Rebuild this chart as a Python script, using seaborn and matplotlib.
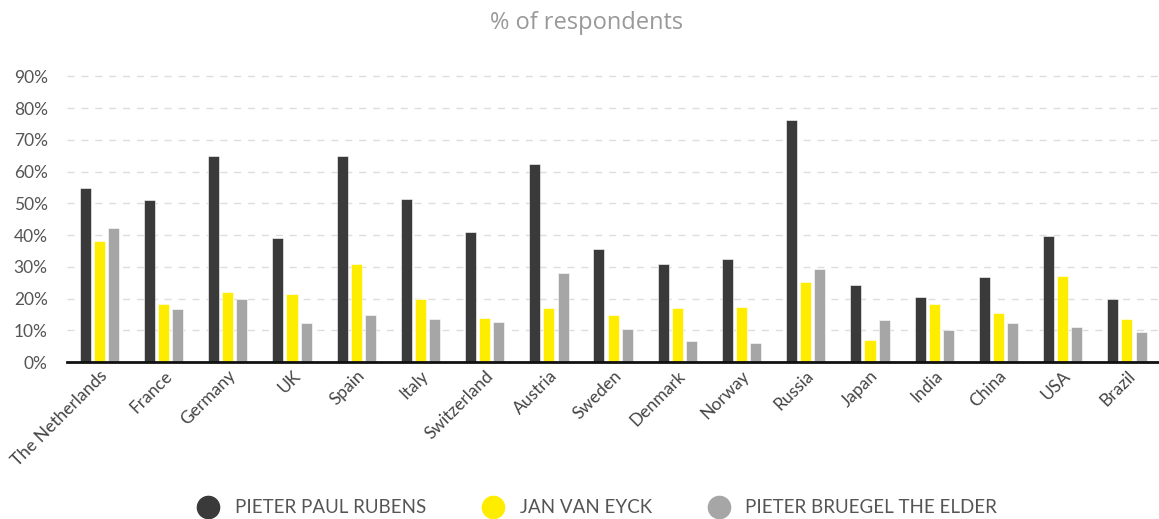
import matplotlib
matplotlib.use("Agg")
import matplotlib.pyplot as plt
from matplotlib.lines import Line2D
import seaborn as sns
import pandas as pd

countries = ["The Netherlands", "France", "Germany", "UK", "Spain", "Italy", "Switzerland",
             "Austria", "Sweden", "Denmark", "Norway", "Russia", "Japan", "India", "China",
             "USA", "Brazil"]
rubens = [54.8, 50.9, 64.9, 39.1, 64.8, 51.4, 41.1, 62.5, 35.6, 31.0, 32.3, 76.2, 24.2, 20.4, 26.8, 39.7, 19.8]
van_eyck = [38.2, 18.3, 22.0, 21.4, 31.0, 19.7, 14.0, 17.1, 14.8, 17.0, 17.3, 25.2, 6.8, 18.3, 15.4, 27.2, 13.4]
bruegel = [42.2, 16.7, 19.8, 12.3, 14.8, 13.5, 12.6, 28.0, 10.4, 6.6, 6.0, 29.3, 13.2, 10.0, 12.3, 11.0, 9.4]
series_names = ["PIETER PAUL RUBENS", "JAN VAN EYCK", "PIETER BRUEGEL THE ELDER"]
colors = ["#3a3a3a", "#ffed00", "#a6a6a6"]
yticks = [0, 10, 20, 30, 40, 50, 60, 70, 80, 90]

rows = []
for name, vals in zip(series_names, [rubens, van_eyck, bruegel]):
    for c, v in zip(countries, vals):
        rows.append({"country": c, "artist": name, "value": v})
df = pd.DataFrame(rows)

sns.set_theme(style="white")
plt.rcParams["font.family"] = ["Lato", "DejaVu Sans"]

fig = plt.figure(figsize=(11.59, 5.19), dpi=100)
ax = fig.add_axes([0.058, 0.3025, 0.942, 0.5565])

sns.barplot(data=df, x="country", y="value", hue="artist", order=countries,
            hue_order=series_names, palette=colors, width=0.66, gap=0.22,
            saturation=1, ax=ax, legend=False, errorbar=None,
            edgecolor="white", linewidth=0.4)

ax.set_xlim(-0.5, len(countries) - 0.5)
ax.set_ylim(0, 91)
ax.set_yticks(yticks)
ax.set_yticklabels([f"{t}%" for t in yticks], color="#555555", fontsize=12.5)
ax.yaxis.grid(True, linestyle=(0, (5, 5)), color="#dddddd", linewidth=1)
ax.set_axisbelow(True)
for s in ["top", "right", "left"]:
    ax.spines[s].set_visible(False)
ax.spines["bottom"].set_color("#111111")
ax.spines["bottom"].set_linewidth(2)
ax.spines["bottom"].set_zorder(5)
ax.tick_params(axis="y", length=0, pad=14)
ax.tick_params(axis="x", length=0, pad=4)
ax.set_xticks(range(len(countries)))
ax.set_xticklabels(countries, rotation=45, ha="right", rotation_mode="anchor",
                   color="#444444", fontsize=12.5)
ax.set_xlabel("")
ax.set_ylabel("")

fig.text(0.506, 0.955, "% of respondents", ha="center", va="center",
         fontsize=17, color="#999999", family=["Open Sans", "DejaVu Sans"])

handles = [Line2D([0], [0], marker="o", linestyle="", markersize=16,
                  markerfacecolor=c, markeredgecolor=c) for c in colors]
fig.legend(handles, series_names, loc="center", bbox_to_anchor=(0.512, 0.022),
           ncol=3, frameon=False, fontsize=13.5, labelcolor="#555555",
           handletextpad=0.4, columnspacing=2.6)

fig.savefig("out.png", dpi=100)
